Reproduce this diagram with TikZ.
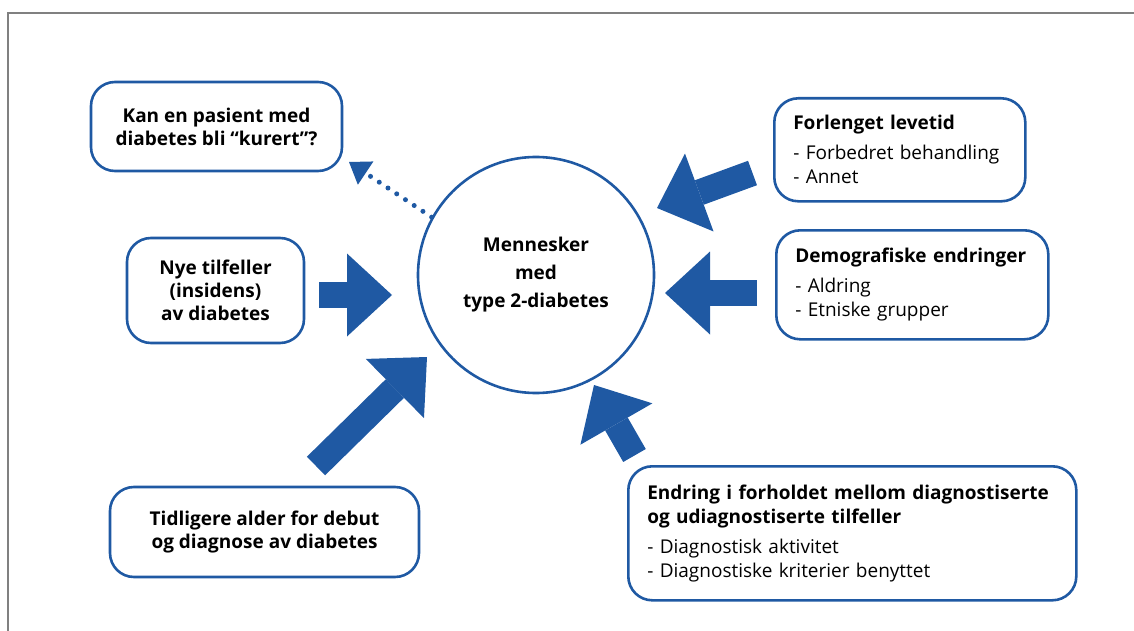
\documentclass[tikz,border=0pt]{standalone}
\usepackage{fontspec}
\setmainfont{Open Sans}
\usetikzlibrary{arrows.meta,positioning,calc}
\definecolor{diablue}{RGB}{31,89,163}

\begin{document}
\begin{tikzpicture}[x=1pt,y=-1pt]
  \tikzset{box/.style={draw=diablue, line width=2.6pt, rounded corners=24pt, inner sep=0pt,
      align=center, font=\bfseries\fontsize{19}{23}\selectfont},
    listbox/.style={box, anchor=north west, align=left, inner xsep=19pt,
      font=\fontsize{19}{24}\selectfont},
    fat/.style={diablue, line width=26pt, -{Triangle[width=83pt,length=45pt,line width=0pt]}},
    dots/.style={diablue, line width=5pt, line cap=round, dash pattern=on 0pt off 10.5pt,
      -{Triangle[width=28pt,length=20pt,line width=0pt]}}
  }
  \useasboundingbox (0,0) rectangle (1134,631);
  \draw[gray, line width=1.5pt] (8,700) -- (8,13) -- (1200,13);

  \node[circle, draw=diablue, line width=2.6pt, minimum size=236pt, align=center,
    font=\bfseries\fontsize{19}{28}\selectfont] (C) at (536,275) {Mennesker\\med\\type 2-diabetes};

  % left side
  \node[box, minimum width=251pt, minimum height=89pt] (kan) at (216.5,126.5)
    {Kan en pasient med\\diabetes bli “kurert”?};
  \node[box, minimum width=177pt, minimum height=105pt] (nye) at (215.5,290.5)
    {Nye tilfeller\\(insidens)\\av diabetes};
  \node[box, minimum width=309pt, minimum height=90pt] (tidl) at (264.5,532)
    {Tidligere alder for debut\\og diagnose av diabetes};

  % right side
  \node[listbox, text width=213pt, minimum height=103pt] (levetid) at (773,97)
    {\textbf{Forlenget levetid}\\[6pt]- Forbedret behandling\\- Annet};
  \node[listbox, text width=234pt, minimum height=109pt] (demo) at (775,229)
    {\textbf{Demografiske endringer}\\[6pt]- Aldring\\- Etniske grupper};
  \node[listbox, text width=410pt, minimum height=134pt] (endring) at (627,465)
    {\textbf{Endring i forholdet mellom diagnostiserte}\\\textbf{og udiagnostiserte tilfeller}\\[6pt]- Diagnostisk aktivitet\\- Diagnostiske kriterier benyttet};

  \coordinate (nyeT) at (319,295);     \coordinate (nyeH) at (392,295);
  \coordinate (tidlT) at (316,466);    \coordinate (tidlH) at (427,357);
  \coordinate (endrT) at (634.5,455.5);\coordinate (endrH) at (594,385);
  \coordinate (demoT) at (757,293);    \coordinate (demoH) at (665,293);
  \coordinate (leveT) at (752.5,173);  \coordinate (leveH) at (657,208);
  \coordinate (kanH) at (349,162);

  \draw[fat] (nyeT) -- (nyeH);
  \draw[fat] (tidlT) -- (tidlH);
  \draw[fat] (endrT) -- (endrH);
  \draw[fat] (demoT) -- (demoH);
  \draw[fat] (leveT) -- (leveH);
  \draw[dots] (C.151) -- (kanH);
\end{tikzpicture}
\end{document}
